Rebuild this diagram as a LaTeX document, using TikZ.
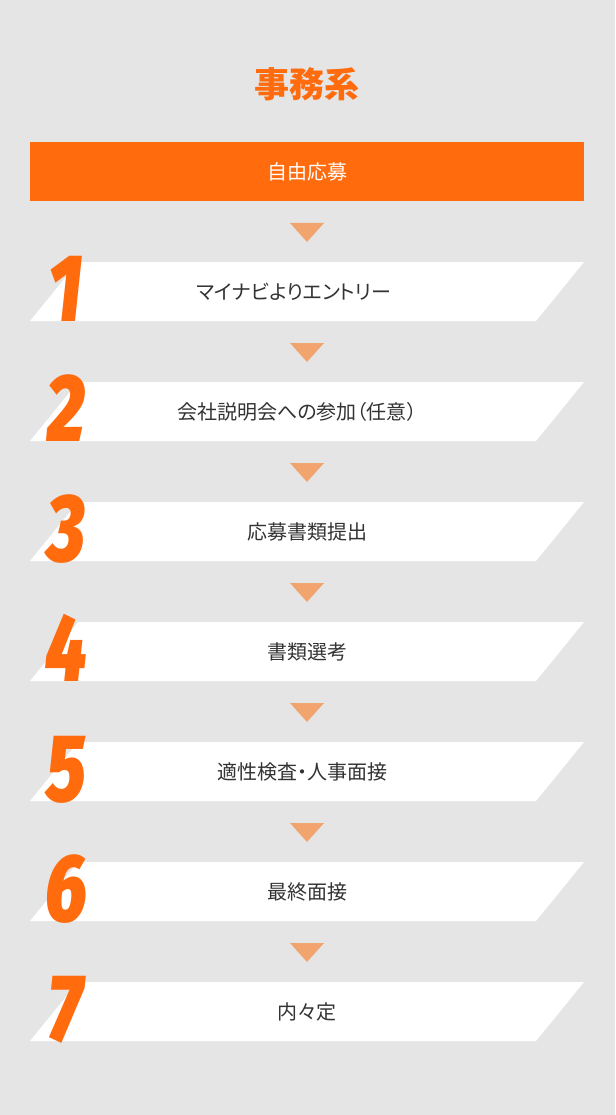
\documentclass[tikz,border=0pt]{standalone}
\usepackage{fontspec}
\usepackage{tikz}
\usetikzlibrary{positioning}
\newfontfamily\jp{Noto Sans CJK JP}[RawFeature=+palt]
\newfontfamily\numfont{Fira Sans Black Italic}
\definecolor{bggray}{HTML}{E5E5E5}
\definecolor{mainorange}{HTML}{FF6B0D}
\definecolor{arroworange}{HTML}{F2A46E}
\definecolor{textgray}{HTML}{333333}

\begin{document}
\begin{tikzpicture}[x=1pt,y=-1pt,
	title/.style={font=\jp\bfseries\fontsize{35}{40}\selectfont, text=mainorange},
	headbox/.style={fill=mainorange, text=white, minimum width=554pt, minimum height=59pt, inner sep=0pt, font=\jp\fontsize{20}{24}\selectfont},
	steptext/.style={text=textgray, font=\jp\fontsize{20}{24}\selectfont},
	stepnum/.style={text=mainorange, inner sep=0pt, font=\numfont\fontsize{96}{96}\selectfont},
	downarrow/.style={fill=arroworange}]
		\useasboundingbox (0,0) rectangle (615,1115);
		\fill[bggray] (0,0) rectangle (615,1115);
		\node[title] (jimu) at (307,84) {事務系};
		\node[headbox] (jiyu) at (307,171.5) {自由応募};
		\foreach \n/\xt/\txt in {1/294/マイナビよりエントリー,2/297/会社説明会への参加（任意）,3/307/応募書類提出,4/307/書類選考,5/302/適性検査・人事面接,6/307/最終面接,7/307/内々定}{
			\pgfmathsetmacro{\y}{262+(\n-1)*120}
			% triangle above each step
			\fill[downarrow] (290,\y-39) -- (324,\y-39) -- (307,\y-20) -- cycle;
			% white slanted band
			\fill[white] (78,\y) -- (584,\y) -- (536,\y+59) -- (30,\y+59) -- cycle;
			\node[steptext] (s\n) at (\xt,\y+29.5) {\txt};
			\node[stepnum, anchor=base] (n\n) at (66,\y+59) {\scalebox{0.76}[1]{\n}};
		}
		\end{tikzpicture}
\end{document}
